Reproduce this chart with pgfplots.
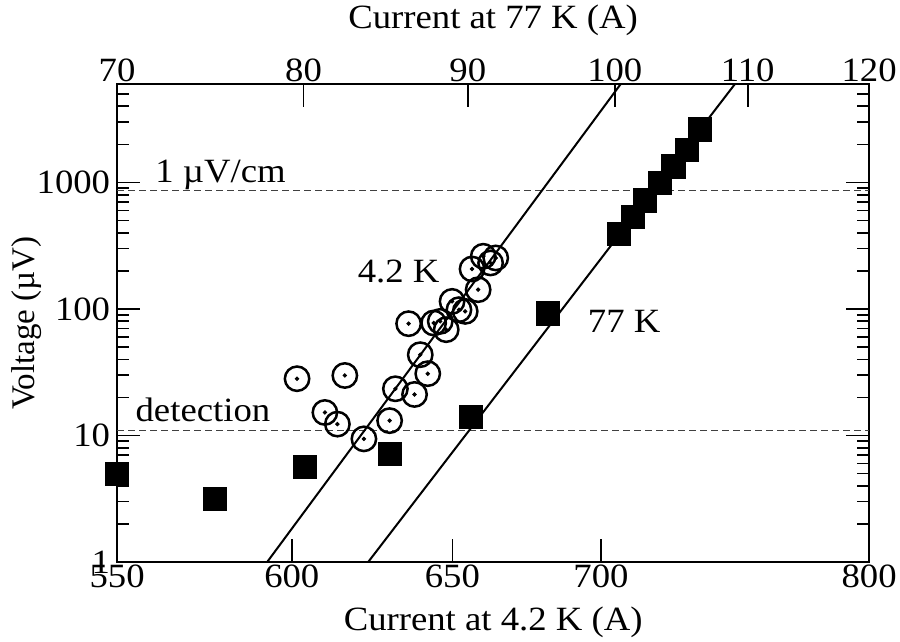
\documentclass[border=0pt]{standalone}
\usepackage{fontspec}
\setmainfont{Liberation Serif}[FakeStretch=1.08]
\newfontfamily\plainserif{Liberation Serif}
\usepackage{pgfplots}
\pgfplotsset{compat=1.18}
\begin{document}
\begin{tikzpicture}[font=\fontsize{17pt}{20pt}\selectfont]
\path[use as bounding box] (-58.5pt,-40pt) rectangle (391.5pt,281pt);
\begin{axis}[
  at={(0pt,0pt)}, anchor=south west,
  scale only axis, width=376pt, height=239pt,
  xmode=log, ymode=log, ymin=1, ymax=6000,
  axis line style={line width=1pt},
  major tick length=11.5pt, minor tick length=6pt,
  tick style={line width=0.8pt, black},
  tick align=inside,
  xmin=550, xmax=800,
  xtick={550,600,650,700,800}, xticklabels={550,600,650,700,800},
  xtick pos=left,
  ytick={1,10,100,1000}, yticklabels={1,10,100,1000},
  minor ytick={2,3,4,5,6,7,8,9,20,30,40,50,60,70,80,90,200,300,400,500,600,700,800,900,2000,3000,4000,5000},
  minor xtick={},
  xticklabel style={inner sep=1pt},
  xlabel={Current at 4.2 K (A)}, ylabel={\plainserif\fontsize{16.5pt}{20pt}\selectfont Voltage (µV)},
  xlabel style={at={(axis description cs:0.5,-0.1423)}, anchor=base},
  ylabel style={at={(axis description cs:-0.12,0.5)}, anchor=center},
]
\addplot[black!75, line width=0.6pt, dash pattern=on 3.5pt off 2pt] coordinates {(550,863) (800,863)};
\addplot[black!75, line width=0.6pt, dash pattern=on 3.5pt off 2pt] coordinates {(550,10.9) (800,10.9)};
\addplot[black, line width=1pt] coordinates {(592.7,1) (706.9,6000)};
\addplot[only marks, mark=o, mark size=6.1pt, mark options={line width=1.25pt, black}] coordinates {
(601.6,28.1) (616.1,29.8) (610.0,15.2) (613.8,12.3) (622.0,9.4) (630.0,13.1) (631.8,23.4) (637.9,21.1) (642.1,30.8) (639.7,43.5) (636.0,76.5) (644.0,77.5) (646.1,79.8) (648.0,68.6) (649.9,114.8) (652.1,98.7) (654.2,95.7) (658.4,142) (656.4,207) (660.1,261) (662.5,231) (664.2,253)};
\addplot[only marks, mark=*, mark size=0.9pt, mark options={black}] coordinates {
(601.6,28.1) (616.1,29.8) (610.0,15.2) (613.8,12.3) (622.0,9.4) (630.0,13.1) (631.8,23.4) (637.9,21.1) (642.1,30.8) (639.7,43.5) (636.0,76.5) (644.0,77.5) (646.1,79.8) (648.0,68.6) (649.9,114.8) (652.1,98.7) (654.2,95.7) (658.4,142) (656.4,207) (660.1,261) (662.5,231) (664.2,253)};
\node[anchor=base west, inner sep=0pt] at (axis cs:560.5,1000) {1 µV/cm};
\node[anchor=base west, inner sep=0pt] at (axis cs:620.0,160.7) {4.2 K};
\node[anchor=base west, inner sep=0pt] at (axis cs:695.3,64.6) {77 K};
\node[anchor=base west, inner sep=0pt] at (axis cs:555.0,12.9) {detection};
\end{axis}
\begin{axis}[
  at={(0pt,0pt)}, anchor=south west,
  scale only axis, width=376pt, height=239pt,
  xmode=log, ymode=log, ymin=1, ymax=6000,
  axis line style={line width=1pt},
  major tick length=11.5pt, minor tick length=6pt,
  tick style={line width=0.8pt, black},
  xmin=70, xmax=120,
  axis x line*=top, hide y axis,
  tick align=inside,
  xtick={70,80,90,100,110,120}, xticklabels={70,80,90,100,110,120},
  minor xtick={},
  xticklabel style={inner sep=1pt},
  xlabel={Current at 77 K (A)},
  xlabel style={at={(axis description cs:0.5,1.117)}, anchor=base},
]
\addplot[black, line width=1pt] coordinates {(83.8,1) (109.0,6000)};
\addplot[only marks, mark=square*, mark size=5.8pt, mark options={black}] coordinates {
(70,4.97) (75.1,3.15) (80.1,5.64) (85.1,7.2) (90.2,14.1) (95.3,92.3) (100.3,390) (101.3,531) (102.2,720) (103.3,990) (104.3,1339) (105.3,1802) (106.3,2630)};
\end{axis}
\end{tikzpicture}
\end{document}
